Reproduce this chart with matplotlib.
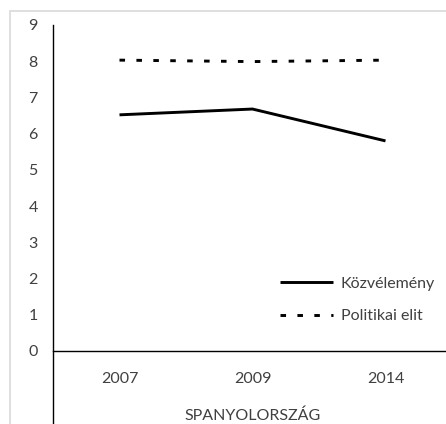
import matplotlib
matplotlib.use("Agg")

import matplotlib.pyplot as plt
from matplotlib.patches import Rectangle

# ======================================
# DATA
# ======================================

years=["2007","2009","2014"]
kozvelemeny=[6.52,6.68,5.80]
politikai_elit=[8.03,7.99,8.03]
y_ticks=[0,1,2,3,4,5,6,7,8,9]

plt.rcParams['font.family']=['Lato','DejaVu Sans']

W,H=446,424
fig=plt.figure(figsize=(W/100,H/100),dpi=100)

# outer light gray frame (cut at right/bottom)
fig.patches.append(Rectangle((10/W,-0.1),1.2,1-11/H+0.1,transform=fig.transFigure,
                             fill=False,edgecolor="#d9d9d9",linewidth=1.2))

# axes: x from 53 to 452 px, y from 25 (9) to 351 (0)
ax=fig.add_axes([53/W,1-351/H,(452-53)/W,(351-25)/H])

x=list(range(len(years)))

ax.plot(x,kozvelemeny,color="black",linewidth=2.1,label="Közvélemény",solid_capstyle="butt")
ax.plot(x,politikai_elit,color="black",linewidth=2.1,linestyle=(0,(1.9,3.9)),label="Politikai elit")

ax.set_xlim(-0.5,2.5)
ax.set_ylim(0,9)

ax.set_xticks(x)
ax.set_xticklabels(years)
ax.set_yticks(y_ticks)

ax.tick_params(axis="both",length=0,labelsize=11.5,colors="#404040")
ax.tick_params(axis="y",pad=11)
ax.tick_params(axis="x",pad=15)

for s in ["top","right"]:
    ax.spines[s].set_visible(False)
ax.spines["left"].set_visible(False)
ax.spines["bottom"].set_linewidth(1.0)

# vertical axis line goes down past the 0 line
ax.plot([0,0],[1,-(H-351+5)/(351-25)],transform=ax.transAxes,color="black",
        linewidth=1.0,clip_on=False)

fig.text(253/W,1-416/H,"SPANYOLORSZÁG",ha="center",va="center",fontsize=11.5,color="#404040")

ax.legend(loc="center left",bbox_to_anchor=(280/W,1-300/H),bbox_transform=fig.transFigure,
          frameon=False,borderpad=0,borderaxespad=0,handlelength=3.3,handletextpad=0.5,
          labelspacing=1.15,fontsize=11.5,labelcolor="#404040")

plt.savefig("out.png",dpi=100)
plt.close()
